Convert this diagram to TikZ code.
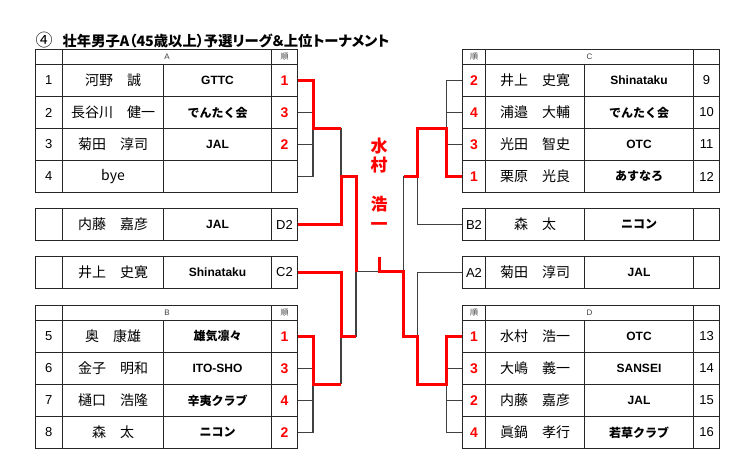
\documentclass[tikz,border=0pt]{standalone}
\usepackage{fontspec}
\setmainfont{Liberation Sans}
\newfontfamily\jp{Noto Sans CJK JP}
\newfontfamily\jptitle{Noto Sans CJK JP}[RawFeature=+palt]

% one row of a group table, left side: id, top, no, name, club, rank
\newcommand\lrow[6]{%
  \node[cell, nocell, minimum width=27.5pt] (#1n) at (34.5,#2) {#3};
  \node[cell, namecell, minimum width=101pt] (#1m) at (62,#2) {#4};
  \node[cell, clubcell, minimum width=108pt] (#1c) at (163,#2) {#5};
  \node[cell, rankcell, minimum width=26pt] (#1r) at (271,#2) {#6};}
% same, right side (rank first, number last)
\newcommand\rrow[6]{%
  \node[cell, rankcell, minimum width=23pt] (#1r) at (462,#2) {#6};
  \node[cell, namecell, minimum width=99pt] (#1m) at (485,#2) {#4};
  \node[cell, clubcell, minimum width=109pt] (#1c) at (584,#2) {#5};
  \node[cell, nocell, minimum width=26pt] (#1n) at (693,#2) {#3};}
\newcommand\lhead[2]{%
  \node[cell, hcell, minimum width=27.5pt] (#1h0) at (34.5,#2) {};
  \node[cell, hcell, minimum width=209pt] (#1h) at (62,#2) {#1};
  \node[cell, hcell, minimum width=26pt] (#1h2) at (271,#2) {\jp 順};}
\newcommand\rhead[2]{%
  \node[cell, hcell, minimum width=23pt] (#1h2) at (462,#2) {\jp 順};
  \node[cell, hcell, minimum width=208pt] (#1h) at (485,#2) {#1};
  \node[cell, hcell, minimum width=26pt] (#1h0) at (693,#2) {};}
\newcommand\seed[1]{{\mdseries\fontsize{13}{13}\selectfont\color{black}#1}}

\begin{document}
\begin{tikzpicture}[x=1pt,y=-1pt]
  \tikzset{cell/.style={draw=black!85, line width=1pt, inner sep=0pt, anchor=north west, minimum height=32pt},
           nocell/.style={font=\fontsize{13}{13}\selectfont},
           namecell/.style={font=\jp\fontsize{14}{14}\selectfont},
           clubcell/.style={font=\bfseries\fontsize{12}{12}\selectfont},
           rankcell/.style={text=red, font=\bfseries\fontsize{14}{14}\selectfont},
           hcell/.style={minimum height=15.5pt, font=\fontsize{8}{8}\selectfont, text=black!75},
           bk/.style={draw=black!75, line width=1.2pt},
           win/.style={draw=red, line width=3pt}}
  \useasboundingbox (0,0) rectangle (753,474);
  \node[anchor=west, inner sep=0pt, font=\jptitle\bfseries\fontsize{14.3}{14.3}\selectfont] (title) at (35.5,40) {{\mdseries\fontsize{17}{17}\selectfont ④}\hspace{10pt}壮年男子A（45歳以上）予選リーグ＆上位トーナメント};

  % group A
  \lhead{A}{48.5}
  \lrow{A1}{64}{1}{河野　誠}{GTTC}{1}
  \lrow{A2}{96}{2}{長谷川　健一}{\jp でんたく会}{3}
  \lrow{A3}{128}{3}{菊田　淳司}{JAL}{2}
  \lrow{A4}{160}{4}{bye}{}{}
  % second places
  \lrow{wD}{208}{}{内藤　嘉彦}{JAL}{\seed{D2}}
  \lrow{wC}{256}{}{井上　史寛}{Shinataku}{\seed{C2}}
  % group B
  \lhead{B}{304.5}
  \lrow{B1}{320}{5}{奥　康雄}{\jp 雄気凛々}{1}
  \lrow{B2}{352}{6}{金子　明和}{ITO-SHO}{3}
  \lrow{B3}{384}{7}{樋口　浩隆}{\jp 辛夷クラブ}{4}
  \lrow{B4}{416}{8}{森　太}{\jp ニコン}{2}

  % group C
  \rhead{C}{48.5}
  \rrow{C1}{64}{9}{井上　史寛}{Shinataku}{2}
  \rrow{C2}{96}{10}{浦邉　大輔}{\jp でんたく会}{4}
  \rrow{C3}{128}{11}{光田　智史}{OTC}{3}
  \rrow{C4}{160}{12}{栗原　光良}{\jp あすなろ}{1}
  \rrow{wB}{208}{}{森　太}{\jp ニコン}{\seed{B2}}
  \rrow{wA}{256}{}{菊田　淳司}{JAL}{\seed{A2}}
  % group D
  \rhead{D}{304.5}
  \rrow{D1}{320}{13}{水村　浩一}{OTC}{1}
  \rrow{D2}{352}{14}{大嶋　義一}{SANSEI}{3}
  \rrow{D3}{384}{15}{内藤　嘉彦}{JAL}{2}
  \rrow{D4}{416}{16}{眞鍋　孝行}{\jp 若草クラブ}{4}

  % tournament
  \coordinate (jA) at (341,128);
  \coordinate (jB) at (341,384);
  \coordinate (sU) at (356,176);
  \coordinate (sL) at (356,336.5);
  \coordinate (jC) at (417.5,128);
  \coordinate (jD) at (417.5,384);
  \coordinate (tU) at (403.5,176);
  \coordinate (tL) at (403.5,336.5);
  \coordinate (fin) at (379,271.5);
  \coordinate (top) at (379,256.5);

  \draw[bk] (A4r.east) -- ++(15,0) |- (A2r.east) (A3r.east) -- ++(15,0);
  \draw[bk] (B4r.east) -- ++(15,0) |- (B2r.east) (B3r.east) -- ++(15,0);
  \draw[bk] (C1r.west) -- ++(-15.5,0) |- (C3r.west) (C2r.west) -- ++(-15.5,0);
  \draw[bk] (D4r.west) -- ++(-15.5,0) |- (D2r.west) (D3r.west) -- ++(-15.5,0);
  \draw[bk] (jA) -- (jA |- sU);
  \draw[bk] (jB) -- (jB |- sL);
  \draw[bk] (sL) -- (sL |- fin) -- (fin);
  \draw[bk] (wBr.west) -| (jC |- tU);
  \draw[bk] (wAr.west) -| (jD |- tL);
  \draw[bk] (tU) -- (tU |- fin);

  \draw[win] (A1r.east) -- ++(15,0) |- (jA);
  \draw[win] (B1r.east) -- ++(15,0) |- (jB);
  \draw[win] (wDr.east) -| (jA |- sU) -- (sU) -- (sU |- fin);
  \draw[win] (wCr.east) -| (jB |- sL) -- (sL);
  \draw[win] (C4r.west) -- ++(-15.5,0) |- (jC) -- (jC |- tU) -- (tU);
  \draw[win] (D1r.west) -- ++(-15.5,0) |- (jD) -- (jD |- tL) -- (tL) -- (tL |- fin) -- (fin) -- (top);

  \node[text=red, align=center, font=\jp\bfseries\fontsize{17}{19.5}\selectfont] (champ) at (379,184) {水\\村\\[19.5pt]浩\\一};
\end{tikzpicture}
\end{document}
